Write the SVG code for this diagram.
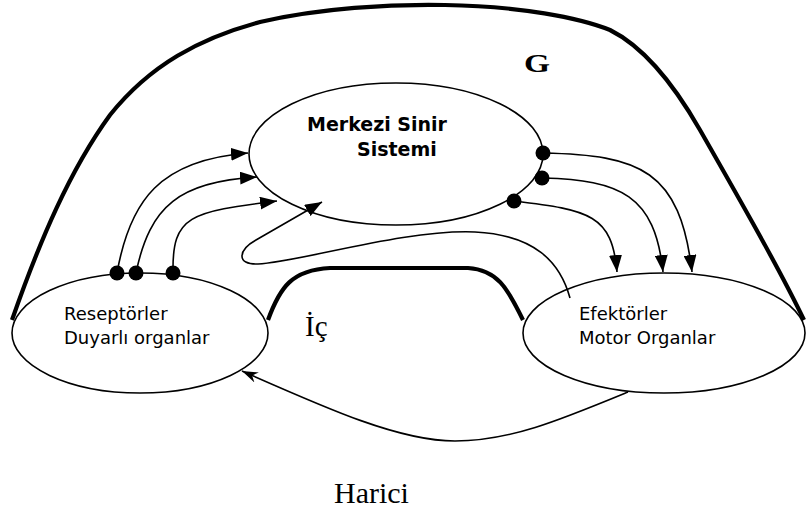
<svg xmlns="http://www.w3.org/2000/svg" width="806" height="511" viewBox="0 0 806 511">
  <style>
    .organ { fill: none; stroke: #000; stroke-width: 1.6; }
    .wall { fill: none; stroke: #000; stroke-width: 4.2; stroke-linecap: butt; }
    .link { fill: none; stroke: #000; stroke-width: 1.6; }
    .dot { fill: #000; }
    .sans { font-family: "DejaVu Sans", Verdana, sans-serif; font-size: 18px; fill: #000; }
    .sansb { font-family: "DejaVu Sans", Verdana, sans-serif; font-size: 19px; font-weight: bold; fill: #000; }
    .serif { font-family: "Liberation Serif", "Times New Roman", serif; fill: #000; }
  </style>
  <defs>
    <marker id="tri" viewBox="0 0 17 13" refX="17" refY="6.5" markerWidth="17" markerHeight="13" markerUnits="userSpaceOnUse" orient="auto">
      <path d="M0,0 L17,6.5 L0,13 z" fill="#000"/>
    </marker>
    <marker id="barb" viewBox="0 0 16 12" refX="16" refY="6" markerWidth="16" markerHeight="12" markerUnits="userSpaceOnUse" orient="auto">
      <path d="M0,0.5 L16,6 L0,11.5 L5,6 z" fill="#000"/>
    </marker>
  </defs>

  <rect width="806" height="511" fill="#fff"/>

  <!-- outer body boundary -->
  <g id="outer-boundary">
    <path class="wall" d="M12,320 C 40,240 70,170 110,115 C 150,65 200,38 260,22 C 320,8 390,4 445,5 C 520,6 580,18 610,30 C 650,50 680,95 700,130 C 740,200 780,270 804,320"/>
  </g>

  <!-- inner boundary between the two organ groups -->
  <g id="inner-boundary">
    <path class="wall" d="M268,320 C 280,287 292,270 330,268 L 468,268 C 497,270 507,287 523,320"/>
  </g>

  <g id="node-cns">
    <ellipse class="organ" cx="396" cy="154" rx="147" ry="71"/>
    <text class="sansb" x="307" y="131">Merkezi Sinir</text>
    <text class="sansb" x="357" y="156">Sistemi</text>
  </g>

  <g id="node-receptors">
    <ellipse class="organ" cx="140" cy="333" rx="128" ry="60"/>
    <text class="sans" x="64" y="320">Reseptörler</text>
    <text class="sans" x="64" y="344">Duyarlı organlar</text>
  </g>

  <g id="node-effectors">
    <ellipse class="organ" cx="664" cy="333" rx="141" ry="60"/>
    <text class="sans" x="579" y="320">Efektörler</text>
    <text class="sans" x="579" y="344">Motor Organlar</text>
  </g>

  <!-- connectors -->
  <g id="connectors">
    <!-- receptors to CNS -->
    <path class="link" marker-end="url(#tri)" d="M117,273 C 130,200 160,160 248,153"/>
    <path class="link" marker-end="url(#tri)" d="M136,273 C 150,205 180,182 257,177"/>
    <path class="link" marker-end="url(#tri)" d="M173,273 C 172,215 190,212 277,201"/>
    <!-- CNS to effectors -->
    <path class="link" marker-end="url(#tri)" d="M543,153 C 640,155 680,170 692,272"/>
    <path class="link" marker-end="url(#tri)" d="M543,178 C 620,180 655,195 663,272"/>
    <path class="link" marker-end="url(#tri)" d="M514,201 C 590,210 612,215 617,272"/>
    <!-- feedback from effectors to CNS -->
    <path class="link" marker-end="url(#tri)" d="M570,298 C 560,262 535,235 475,232 C 405,229 300,262 258,264 C 236,265 238,250 256,240 L 322,202"/>
    <!-- effectors back to receptors through the outside -->
    <path class="link" marker-end="url(#barb)" d="M628,392 C 560,420 510,441 455,441 C 400,441 330,410 242,371"/>
    <!-- synapse dots -->
    <circle class="dot" cx="117" cy="273" r="7.5"/>
    <circle class="dot" cx="136" cy="273" r="7.5"/>
    <circle class="dot" cx="173" cy="273" r="7.5"/>
    <circle class="dot" cx="543" cy="153" r="7.5"/>
    <circle class="dot" cx="542" cy="178" r="7.5"/>
    <circle class="dot" cx="514" cy="201" r="7.5"/>
  </g>

  <!-- region labels -->
  <g id="labels">
    <text class="serif" x="524" y="72" font-size="26" font-weight="bold" textLength="26" lengthAdjust="spacingAndGlyphs">G</text>
    <text class="serif" x="305" y="336" font-size="29">İç</text>
    <text class="serif" x="334" y="503" font-size="30">Harici</text>
  </g>
</svg>
